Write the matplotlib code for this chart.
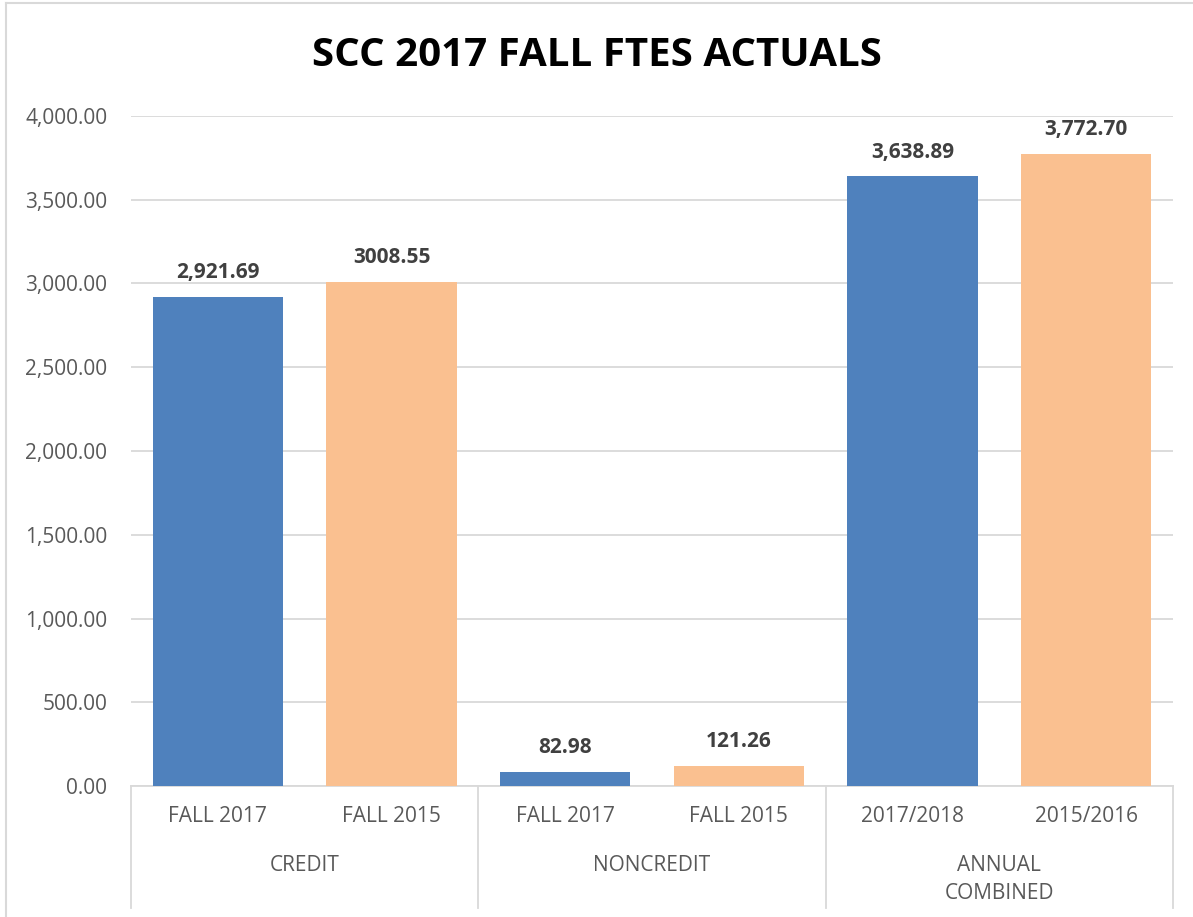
import matplotlib
matplotlib.use("Agg")
import matplotlib.pyplot as plt
from matplotlib.lines import Line2D

plt.rcParams['font.family'] = ['Open Sans', 'DejaVu Sans']

# data
groups = ["CREDIT", "NONCREDIT", "ANNUAL\nCOMBINED"]
sub_labels = ["FALL 2017", "FALL 2015", "FALL 2017", "FALL 2015", "2017/2018", "2015/2016"]
values = [2921.69, 3008.55, 82.98, 121.26, 3638.89, 3772.70]
value_labels = ["2,921.69", "3008.55", "82.98", "121.26", "3,638.89", "3,772.70"]
yticks = [0, 500, 1000, 1500, 2000, 2500, 3000, 3500, 4000]

blue = "#4F81BD"
peach = "#FAC090"
grid_c = "#D9D9D9"
text_c = "#595959"

W, H = 1193, 917
fig = plt.figure(figsize=(W / 100, H / 100), dpi=100)
ax = fig.add_axes([131 / W, 1 - 786 / H, (1173 - 131) / W, (786 - 116) / H])

x = list(range(len(values)))
colors = [blue if i % 2 == 0 else peach for i in x]
ax.bar(x, values, width=0.75, color=colors, zorder=3)

ax.set_xlim(-0.5, len(values) - 0.5)
ax.set_ylim(0, 4000)
ax.set_yticks(yticks)
ax.set_yticklabels([f"{v:,.2f}" for v in yticks], fontsize=15, color=text_c)
ax.tick_params(axis='y', length=0, pad=17)
ax.set_xticks([])
ax.grid(axis='y', color=grid_c, linewidth=1.3, zorder=0)
for s in ['top', 'right', 'left']:
    ax.spines[s].set_visible(False)
ax.spines['bottom'].set_color(grid_c)
ax.spines['bottom'].set_linewidth(1.3)

# value labels
for xi, v, lab in zip(x, values, value_labels):
    ax.annotate(lab, (xi, v), xytext=(0, 10), textcoords='offset points',
                ha='center', va='bottom', fontsize=15, fontweight='bold', color="#404040")

# multi-level category axis
tr = ax.get_xaxis_transform()
axh = 786 - 116
for xi, lab in zip(x, sub_labels):
    ax.text(xi, -(817 - 786) / axh, lab, transform=tr, ha='center', va='center',
            fontsize=15, color=text_c)
for gi, g in enumerate(groups):
    ax.text(gi * 2 + 0.5, -(855 - 786) / axh, g, transform=tr, ha='center', va='top',
            fontsize=15, color=text_c, linespacing=1.42)
for sx in [-0.5, 1.5, 3.5, 5.5]:
    ax.add_line(Line2D([sx, sx], [0, -(908 - 786) / axh], transform=tr, color=grid_c,
                       linewidth=1.3, clip_on=False))

fig.suptitle("SCC 2017 FALL FTES ACTUALS", y=1 - 55 / H, va='center',
             fontsize=29, fontweight='bold', color='black')

# chart border
fig.add_artist(Line2D([6 / W, 6 / W], [0, 1 - 3 / H], transform=fig.transFigure,
                      color=grid_c, linewidth=1.5))
fig.add_artist(Line2D([6 / W, 1], [1 - 3 / H, 1 - 3 / H], transform=fig.transFigure,
                      color=grid_c, linewidth=1.5))

fig.savefig("out.png", dpi=100)
